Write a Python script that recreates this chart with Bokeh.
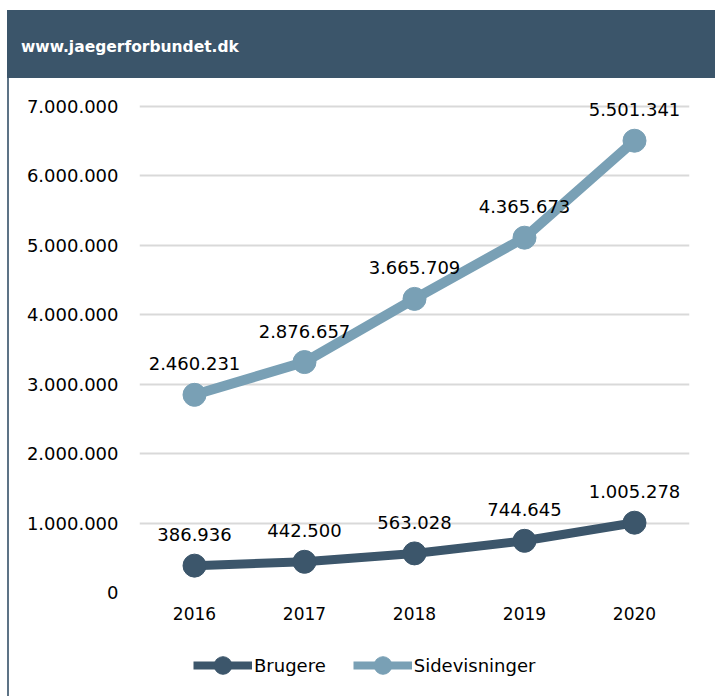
from bokeh.plotting import figure
from bokeh.layouts import column
from bokeh.models import (FactorRange, Range1d, FixedTicker, CustomJSTickFormatter,
                          ColumnDataSource, Div, Legend, LegendItem)
from bokeh.core.properties import value
from bokeh.embed import file_html
from bokeh.resources import INLINE

# ---- data ----
years = ["2016", "2017", "2018", "2019", "2020"]
brugere = [386936, 442500, 563028, 744645, 1005278]
sidevisninger = [2460231, 2876657, 3665709, 4365673, 5501341]
series_names = ["Brugere", "Sidevisninger"]
y_ticks = [0, 1000000, 2000000, 3000000, 4000000, 5000000, 6000000, 7000000]
title_text = "www.jaegerforbundet.dk"

def dk(v):
    return f"{v:,}".replace(",", ".")

stacked = [b + s for b, s in zip(brugere, sidevisninger)]

DARK = "#3c566b"
LIGHT = "#79a0b5"
HEADER = "#3b556a"
BORDER = "#5d7386"
FONT = "DejaVu Sans"

TOTAL_W, TOTAL_H = 715, 696
HEAD_H = 78
MAIN_W = TOTAL_W - 9
MAIN_H = 554
LEG_H = TOTAL_H - HEAD_H - MAIN_H
SIDE_STYLE = {"margin-left": "7px", "border-left": f"2px solid {BORDER}"}

# header band
head = Div(
    text=(f'<div style="padding:10px 0 0 7px;">'
          f'<div style="background:{HEADER};height:68px;width:708px;box-sizing:border-box;'
          f'padding:27px 0 0 14px;color:white;font-family:\'{FONT}\';font-weight:bold;'
          f'font-size:15.5px;line-height:20px;">{title_text}</div></div>'),
    width=TOTAL_W, height=HEAD_H, margin=0)

# main chart
p = figure(width=MAIN_W, height=MAIN_H, x_range=FactorRange(factors=years),
           y_range=Range1d(0, 7230000), output_backend="svg", toolbar_location=None,
           min_border_left=130, min_border_right=26, min_border_top=12, min_border_bottom=40)
p.styles = SIDE_STYLE
p.outline_line_color = None
p.background_fill_color = "white"
p.border_fill_color = "white"

p.xgrid.grid_line_color = None
p.ygrid.grid_line_color = "#d9d9d9"
p.ygrid.grid_line_width = 2
p.yaxis.ticker = FixedTicker(ticks=y_ticks)
p.yaxis.formatter = CustomJSTickFormatter(code="""
return Math.round(tick).toString().replace(/\\B(?=(\\d{3})+(?!\\d))/g, '.');
""")
for ax in (p.xaxis, p.yaxis):
    ax.axis_line_color = None
    ax.major_tick_line_color = None
    ax.minor_tick_line_color = None
    ax.major_tick_out = 0
    ax.major_tick_in = 0
    ax.minor_tick_out = 0
    ax.major_label_text_font = FONT
    ax.major_label_text_font_size = "18px"
    ax.major_label_text_color = "#000000"
p.yaxis.major_label_standoff = 21
p.xaxis.major_label_standoff = 14
p.xaxis.major_label_text_font_size = "17px"

src_b = ColumnDataSource(dict(x=years, y=brugere, lab=[dk(v) for v in brugere]))
src_s = ColumnDataSource(dict(x=years, y=stacked, lab=[dk(v) for v in sidevisninger]))

p.line("x", "y", source=src_b, line_color=DARK, line_width=9)
p.scatter("x", "y", source=src_b, size=23, fill_color=DARK, line_color=DARK)
p.line("x", "y", source=src_s, line_color=LIGHT, line_width=10)
p.scatter("x", "y", source=src_s, size=23, fill_color=LIGHT, line_color=LIGHT)

for src in (src_b, src_s):
    p.text("x", "y", text="lab", source=src, text_align="center", text_baseline="alphabetic",
           y_offset=-31, text_font=value(FONT), text_font_size="18px", text_color="#000000")

# legend strip (same series styles; its renderers sit outside the visible range)
lf = figure(width=MAIN_W, height=LEG_H, x_range=Range1d(0, 1), y_range=Range1d(0, 1),
            output_backend="svg", toolbar_location=None, x_axis_type=None, y_axis_type=None,
            min_border_left=130, min_border_right=26, min_border_top=0, min_border_bottom=0)
lf.styles = SIDE_STYLE
lf.outline_line_color = None
lf.grid.visible = False
lf.background_fill_color = "white"
lf.border_fill_color = "white"
items = []
for name, col in zip(series_names, [DARK, LIGHT]):
    hidden = ColumnDataSource(dict(x=[-10, -9], y=[-10, -10]))
    r1 = lf.line("x", "y", source=hidden, line_color=col, line_width=8)
    r2 = lf.scatter("x", "y", source=hidden, size=23, fill_color=col, line_color=col)
    items.append(LegendItem(label=name, renderers=[r1, r2]))
leg = Legend(items=items, orientation="horizontal", location=(54, 9),
             border_line_color=None, background_fill_alpha=0, padding=0, margin=0,
             spacing=27, glyph_width=59, glyph_height=44, label_standoff=2,
             label_text_font=FONT, label_text_font_size="18px", label_text_color="#000000")
lf.add_layout(leg)

layout = column(head, p, lf, spacing=0)
open("out.html", "w").write(file_html(layout, INLINE))
